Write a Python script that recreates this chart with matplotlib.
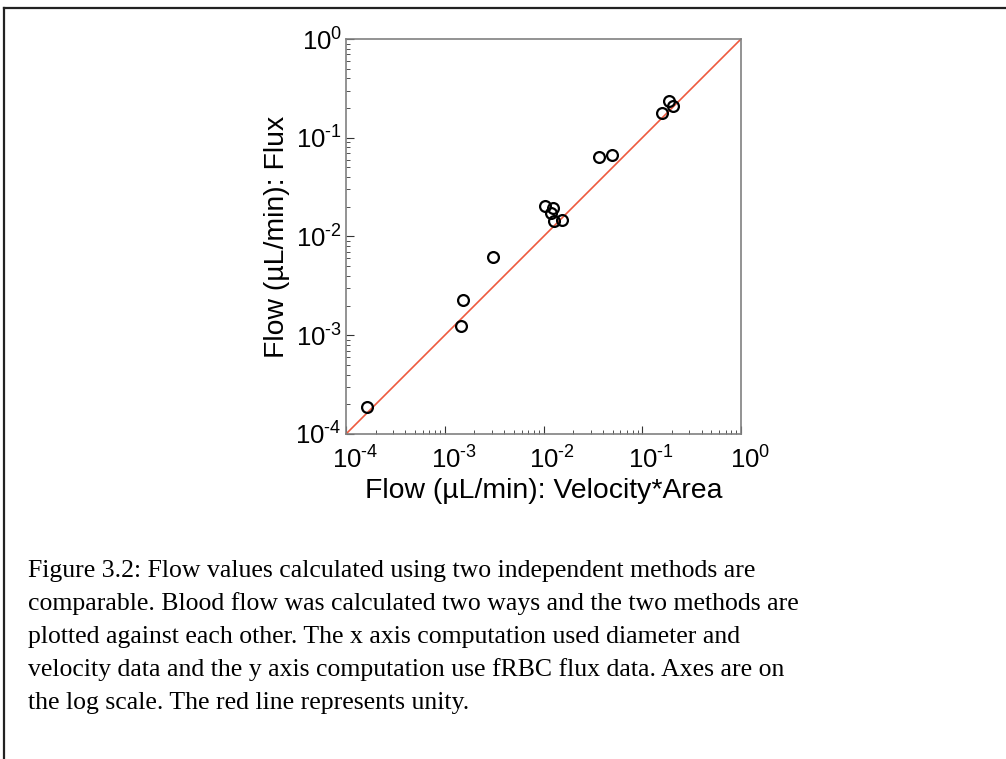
import numpy as np
import matplotlib
matplotlib.use('Agg')
import matplotlib.pyplot as plt
import matplotlib.transforms as mtransforms
from matplotlib.lines import Line2D
from matplotlib.ticker import FuncFormatter

# values (log-log, both axes in uL/min)
flow_velocity_area = [1.62e-4, 1.45e-3, 1.54e-3, 3.10e-3, 1.035e-2, 1.256e-2, 1.18e-2,
                      1.285e-2, 1.55e-2, 3.67e-2, 4.98e-2, 0.157, 0.187, 0.203]
flow_flux = [1.86e-4, 1.24e-3, 2.28e-3, 6.15e-3, 2.04e-2, 1.96e-2, 1.72e-2,
             1.43e-2, 1.46e-2, 6.43e-2, 6.73e-2, 0.178, 0.236, 0.210]
unity = [1e-4, 1e0]

caption_lines = [
    "Figure 3.2: Flow values calculated using two independent methods are",
    "comparable. Blood flow was calculated two ways and the two methods are",
    "plotted against each other. The x axis computation used diameter and",
    "velocity data and the y axis computation use fRBC flux data. Axes are on",
    "the log scale. The red line represents unity.",
]

plt.rcParams['font.family'] = ['Liberation Sans', 'DejaVu Sans']
plt.rcParams['mathtext.fontset'] = 'custom'
plt.rcParams['mathtext.rm'] = 'Liberation Sans'
plt.rcParams['mathtext.it'] = 'Liberation Sans'
plt.rcParams['mathtext.bf'] = 'Liberation Sans'


def pow10(v, pos):
    e = int(round(np.log10(v)))
    return r'$\mathrm{10}^{\text{%d}}$' % e


fig = plt.figure(figsize=(10.06, 7.59), dpi=100)
ax = fig.add_axes([346 / 1006, 1 - 434 / 759, 395 / 1006, 395 / 759])

ax.plot(unity, unity, color='#EE5A3E', lw=1.2, zorder=2)
ax.plot(flow_velocity_area, flow_flux, 'o', ms=7.8, mfc='none', mec='black', mew=1.6, zorder=3)

ax.set_xscale('log')
ax.set_yscale('log')
ax.set_xlim(1e-4, 1)
ax.set_ylim(1e-4, 1)
ax.xaxis.set_major_formatter(FuncFormatter(pow10))
ax.yaxis.set_major_formatter(FuncFormatter(pow10))

for s in ax.spines.values():
    s.set_color('#808080')
    s.set_linewidth(1.2)

ax.tick_params(which='both', direction='in', top=False, right=False, colors='#333333',
               labelcolor='black', labelsize=18.5)
ax.tick_params(which='major', length=6, width=0.8)
ax.tick_params(axis='x', which='major', pad=9)
ax.tick_params(axis='y', which='major', pad=3)
ax.tick_params(which='minor', length=3, width=0.6)

# the "10" sits on the tick, the exponent hangs to the right
shift = mtransforms.ScaledTranslation(0.09, 0, fig.dpi_scale_trans)
for lab in ax.get_xticklabels():
    lab.set_transform(lab.get_transform() + shift)

ax.set_xlabel('Flow (µL/min): Velocity*Area', fontsize=20.4, labelpad=3)
ax.set_ylabel('Flow (µL/min): Flux', fontsize=20.4, labelpad=4)

# outer frame of the figure page (top and left edges only)
fig.add_artist(Line2D([4 / 1006, 1], [1 - 8 / 759, 1 - 8 / 759], color='#222222', lw=1.6))
fig.add_artist(Line2D([4 / 1006, 4 / 1006], [0, 1 - 8 / 759], color='#222222', lw=1.6))

for i, line in enumerate(caption_lines):
    fig.text(28 / 1006, 1 - (577 + i * 33) / 759, line, family='Liberation Serif',
             fontsize=18.5, ha='left', va='baseline', color='black')

fig.savefig('out.png', dpi=100)
